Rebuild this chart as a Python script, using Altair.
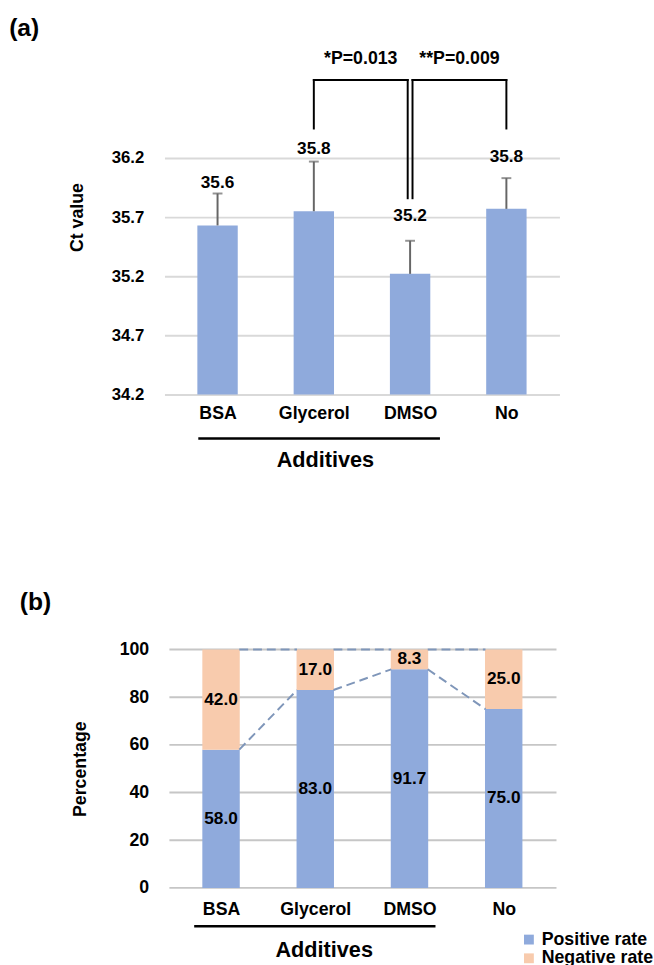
import json
import pandas as pd
import altair as alt

FONT = "Liberation Sans"

# ---------------- data ----------------
additives = ["BSA", "Glycerol", "DMSO", "No"]
ct_mean = [35.63, 35.75, 35.22, 35.77]
ct_sd = [0.27, 0.42, 0.28, 0.26]
ct_label_y = [35.99, 36.28, 35.71, 36.21]      # where each value label sits
ct_ticks = [34.2, 34.7, 35.2, 35.7, 36.2]

p_labels = ["*P=0.013", "**P=0.009"]
p_outer = [1, 3]            # Glycerol and No compared with DMSO (index 2)
p_inner_side = [-0.025, 0.025]

series_names = ["Positive rate", "Negative rate"]
positive_rate = [58.0, 83.0, 91.7, 75.0]
negative_rate = [42.0, 17.0, 8.3, 25.0]
pct_ticks = [0, 20, 40, 60, 80, 100]

BLUE = "#8faadc"
PEACH = "#f8cbad"

# ---------------- panel (a) ----------------
WA, HA = 401, 360
xs_a = alt.Scale(domain=[-0.5, 3.5], nice=False, zero=False)
ys_a = alt.Scale(domain=[34.2, 37.2], nice=False, zero=False)
label_expr = json.dumps(additives) + "[datum.value]"

df_a = pd.DataFrame({
    "additive": additives,
    "idx": list(range(len(additives))),
    "mean": ct_mean,
    "top": [m + s for m, s in zip(ct_mean, ct_sd)],
    "label_y": ct_label_y,
    "base": [ct_ticks[0]] * len(additives),
})

x_axis_a = alt.Axis(values=list(range(len(additives))), labelExpr=label_expr, title=None,
                    domain=False, ticks=False, tickSize=0, grid=False, labelPadding=19,
                    labelBaseline="middle", labelFontSize=18, labelFont=FONT,
                    labelFontWeight="bold", labelColor="black")
y_axis_a = alt.Axis(values=ct_ticks, format=".1f", title="Ct value", domain=False,
                    ticks=False, tickSize=0, grid=True, gridColor="#d9d9d9", gridWidth=2,
                    labelPadding=21, labelFontSize=17, labelFont=FONT, labelFontWeight="bold",
                    labelColor="black", titleFont=FONT, titleFontSize=18,
                    titleFontWeight="bold", titleColor="black", titlePadding=25)


def XA(field):
    return alt.X(field, type="quantitative", scale=xs_a, axis=x_axis_a)


def YA(field):
    return alt.Y(field, type="quantitative", scale=ys_a, axis=y_axis_a)


bars_a = alt.Chart(df_a).mark_bar(size=41, color=BLUE).encode(
    x=XA("idx"), y=YA("mean"), y2="base:Q",
)
err_a = alt.Chart(df_a).mark_rule(color="#666666", strokeWidth=2).encode(
    x=XA("idx"), y=YA("mean"), y2="top:Q",
)
cap_a = alt.Chart(df_a).mark_tick(color="#666666", orient="horizontal", size=10,
                                  thickness=2).encode(
    x=XA("idx"), y=YA("top"),
)
lab_a = alt.Chart(df_a).mark_text(font=FONT, fontSize=17.5, fontWeight="bold",
                                  color="black", baseline="middle").encode(
    x=XA("idx"), y=YA("label_y"),
    text=alt.Text("mean:Q", format=".1f"),
)

BR_TOP, BR_OUTER_BOTTOM, BR_INNER_BOTTOM, P_Y = 36.86, 36.45, 35.86, 37.04
seg_rows, p_rows = [], []
for lab, outer, side in zip(p_labels, p_outer, p_inner_side):
    inner = additives.index("DMSO") + side
    seg_rows.append({"x": outer, "x2": outer, "y": BR_OUTER_BOTTOM, "y2": BR_TOP})
    seg_rows.append({"x": outer, "x2": inner, "y": BR_TOP, "y2": BR_TOP})
    seg_rows.append({"x": inner, "x2": inner, "y": BR_INNER_BOTTOM, "y2": BR_TOP})
    p_rows.append({"x": (outer + inner) / 2, "y": P_Y, "t": lab})
df_seg = pd.DataFrame(seg_rows)
df_p = pd.DataFrame(p_rows)

br_a = alt.Chart(df_seg).mark_rule(color="black", strokeWidth=2, strokeCap="square").encode(
    x=XA("x"), x2="x2:Q", y=YA("y"), y2="y2:Q",
)
pl_a = alt.Chart(df_p).mark_text(font=FONT, fontSize=18, fontWeight="bold",
                                 color="black", baseline="middle").encode(
    x=XA("x"), y=YA("y"), text="t:N",
)

df_ul_a = pd.DataFrame({"x": [-0.20], "x2": [2.31], "t": ["Additives"], "tx": [1.12]})
ul_a = alt.Chart(df_ul_a).mark_rule(color="black", strokeWidth=2.5).encode(
    x=XA("x"), x2="x2:Q", y=alt.value(HA + 44.7),
)
xt_a = alt.Chart(df_ul_a).mark_text(font=FONT, fontSize=22, fontWeight="bold",
                                    color="black", baseline="middle").encode(
    x=XA("tx"), y=alt.value(HA + 67), text="t:N",
)
tag_a = alt.Chart(pd.DataFrame({"t": ["(a)"]})).mark_text(
    font=FONT, fontSize=25, fontWeight="bold", color="black", align="left",
    baseline="middle").encode(x=alt.value(-157.7), y=alt.value(-12), text="t:N")

chart_a = alt.layer(bars_a, err_a, cap_a, lab_a, br_a, pl_a, ul_a, xt_a, tag_a).properties(
    width=WA, height=HA)

# ---------------- panel (b) ----------------
WB, HB = 398, 242
xs_b = alt.Scale(domain=[-0.548, 3.508], nice=False, zero=False)
ys_b = alt.Scale(domain=[0, 100], nice=False, zero=False)
HALF_B = 0.1935

rows = []
for i, (a, p, n) in enumerate(zip(additives, positive_rate, negative_rate)):
    rows.append({"additive": a, "idx": i, "series": series_names[0], "value": p,
                 "start": 0.0, "end": p})
    rows.append({"additive": a, "idx": i, "series": series_names[1], "value": n,
                 "start": p, "end": p + n})
df_b = pd.DataFrame(rows)
df_b["mid"] = (df_b["start"] + df_b["end"]) / 2

conn = []
for i in range(len(additives) - 1):
    conn.append({"x": i + HALF_B, "x2": i + 1 - HALF_B,
                 "y": positive_rate[i], "y2": positive_rate[i + 1]})
    conn.append({"x": i + HALF_B, "x2": i + 1 - HALF_B,
                 "y": positive_rate[i] + negative_rate[i],
                 "y2": positive_rate[i + 1] + negative_rate[i + 1]})
df_conn = pd.DataFrame(conn)

x_axis_b = alt.Axis(values=list(range(len(additives))), labelExpr=label_expr, title=None,
                    domain=False, ticks=False, tickSize=0, grid=False, labelPadding=21.6,
                    labelBaseline="middle", labelFontSize=18, labelFont=FONT,
                    labelFontWeight="bold", labelColor="black")
y_axis_b = alt.Axis(values=pct_ticks, title="Percentage", domain=False, ticks=False,
                    tickSize=0, grid=False, labelPadding=16, labelFontSize=18,
                    labelFont=FONT, labelFontWeight="bold", labelColor="black",
                    titleFont=FONT, titleFontSize=18, titleFontWeight="bold",
                    titleColor="black", titlePadding=30)


def XB(field):
    return alt.X(field, type="quantitative", scale=xs_b, axis=x_axis_b)


def YB(field):
    return alt.Y(field, type="quantitative", scale=ys_b, axis=y_axis_b)


grid_b = alt.Chart(pd.DataFrame({"v": pct_ticks})).mark_rule(
    color="#c6c6c6", strokeWidth=2).encode(
    y=YB("v"), x=alt.value(5), x2=alt.value(WB))

bars_b = alt.Chart(df_b).mark_bar(size=38).encode(
    x=XB("idx"), y=YB("start"), y2="end:Q",
    color=alt.Color("series:N", scale=alt.Scale(domain=series_names, range=[BLUE, PEACH]),
                    legend=alt.Legend(orient="none", legendX=361, legendY=285.5, title=None,
                                      symbolType="square", symbolSize=100,
                                      symbolStrokeWidth=0, labelFont=FONT,
                                      labelFontSize=18, labelFontWeight="bold",
                                      labelColor="black", rowPadding=1, labelOffset=4,
                                      padding=0)),
)
conn_b = alt.Chart(df_conn).mark_rule(color="#7f96b9", strokeWidth=2,
                                      strokeDash=[9, 5]).encode(
    x=XB("x"), x2="x2:Q", y=YB("y"), y2="y2:Q",
)
lab_b = alt.Chart(df_b).mark_text(font=FONT, fontSize=17.5, fontWeight="bold",
                                  color="black", baseline="middle").encode(
    x=XB("idx"), y=YB("mid"),
    text=alt.Text("value:Q", format=".1f"),
)
df_ul_b = pd.DataFrame({"x": [-0.285], "x2": [2.276], "t": ["Additives"], "tx": [1.095]})
ul_b = alt.Chart(df_ul_b).mark_rule(color="black", strokeWidth=2.5).encode(
    x=XB("x"), x2="x2:Q", y=alt.value(HB + 39),
)
xt_b = alt.Chart(df_ul_b).mark_text(font=FONT, fontSize=22, fontWeight="bold",
                                    color="black", baseline="middle").encode(
    x=XB("tx"), y=alt.value(HB + 63), text="t:N",
)
tag_b = alt.Chart(pd.DataFrame({"t": ["(b)"]})).mark_text(
    font=FONT, fontSize=25, fontWeight="bold", color="black", align="left",
    baseline="middle").encode(x=alt.value(-147), y=alt.value(-47.7), text="t:N")

chart_b = alt.layer(grid_b, bars_b, conn_b, lab_b, ul_b, xt_b, tag_b).properties(
    width=WB, height=HB)

chart = alt.vconcat(chart_a, chart_b, spacing=121).resolve_legend(
    color="independent").properties(
    padding={"left": 9, "top": 9, "right": 0, "bottom": 0},
    background="white",
).configure_view(stroke=None)

chart.save("out.html", embed_options={"renderer": "svg", "actions": False})
